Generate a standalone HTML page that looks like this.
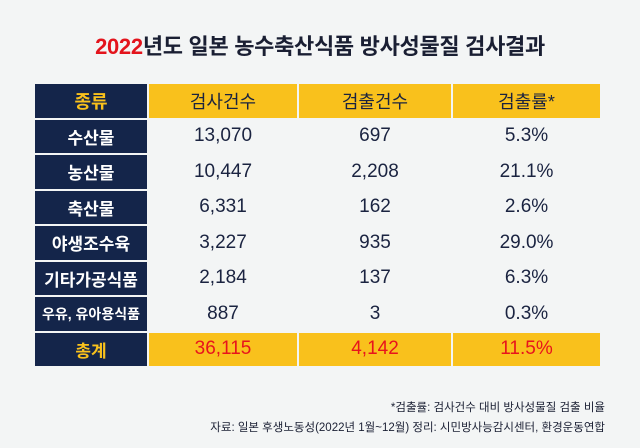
<!DOCTYPE html>
<html><head><meta charset="utf-8"><style>
body{margin:0;width:640px;height:448px;background:#f3f5f5;font-family:"Liberation Sans","Noto Sans CJK KR",sans-serif;position:relative;overflow:hidden}
.t{position:absolute;top:29px;left:0;width:640px;text-align:center;font-size:22px;font-weight:bold;color:#1a1f33;letter-spacing:-0.3px}
.t span{color:#e3141c}
table{position:absolute;left:33px;top:82px;border-collapse:separate;border-spacing:2px}
td{height:33.5px;padding:0;text-align:center;font-size:19px;color:#1a2340;background:#f3f5f5}
td.c{background:#14254a;color:#fff;width:112px;font-size:17px;font-weight:bold}
tr.h td{background:#f9c11c;color:#1a2340;font-size:18px}
tr.h td.c{background:#14254a;color:#f9c11c}
tr.tot td{background:#f9c11c;color:#e8141c}
tr.tot td.c{background:#14254a;color:#f9c11c}
.n1{width:148px}.n2{width:152px}.n3{width:147px}
.f{position:absolute;right:35px;font-size:11.5px;color:#1a1f33;text-align:right}
</style></head><body>
<div class="t"><span>2022</span>년도 일본 농수축산식품 방사성물질 검사결과</div>
<table>
<tr class="h"><td class="c">종류</td><td class="n1">검사건수</td><td class="n2">검출건수</td><td class="n3">검출률*</td></tr>
<tr><td class="c">수산물</td><td>13,070</td><td>697</td><td>5.3%</td></tr>
<tr><td class="c">농산물</td><td>10,447</td><td>2,208</td><td>21.1%</td></tr>
<tr><td class="c">축산물</td><td>6,331</td><td>162</td><td>2.6%</td></tr>
<tr><td class="c">야생조수육</td><td>3,227</td><td>935</td><td>29.0%</td></tr>
<tr><td class="c">기타가공식품</td><td>2,184</td><td>137</td><td>6.3%</td></tr>
<tr><td class="c" style="font-size:14px">우유, 유아용식품</td><td>887</td><td>3</td><td>0.3%</td></tr>
<tr class="tot"><td class="c">총계</td><td>36,115</td><td>4,142</td><td>11.5%</td></tr>
</table>
<div class="f" style="top:399px">*검출률: 검사건수 대비 방사성물질 검출 비율</div>
<div class="f" style="top:419px">자료: 일본 후생노동성(2022년 1월~12월) 정리: 시민방사능감시센터, 환경운동연합</div>
</body></html>
